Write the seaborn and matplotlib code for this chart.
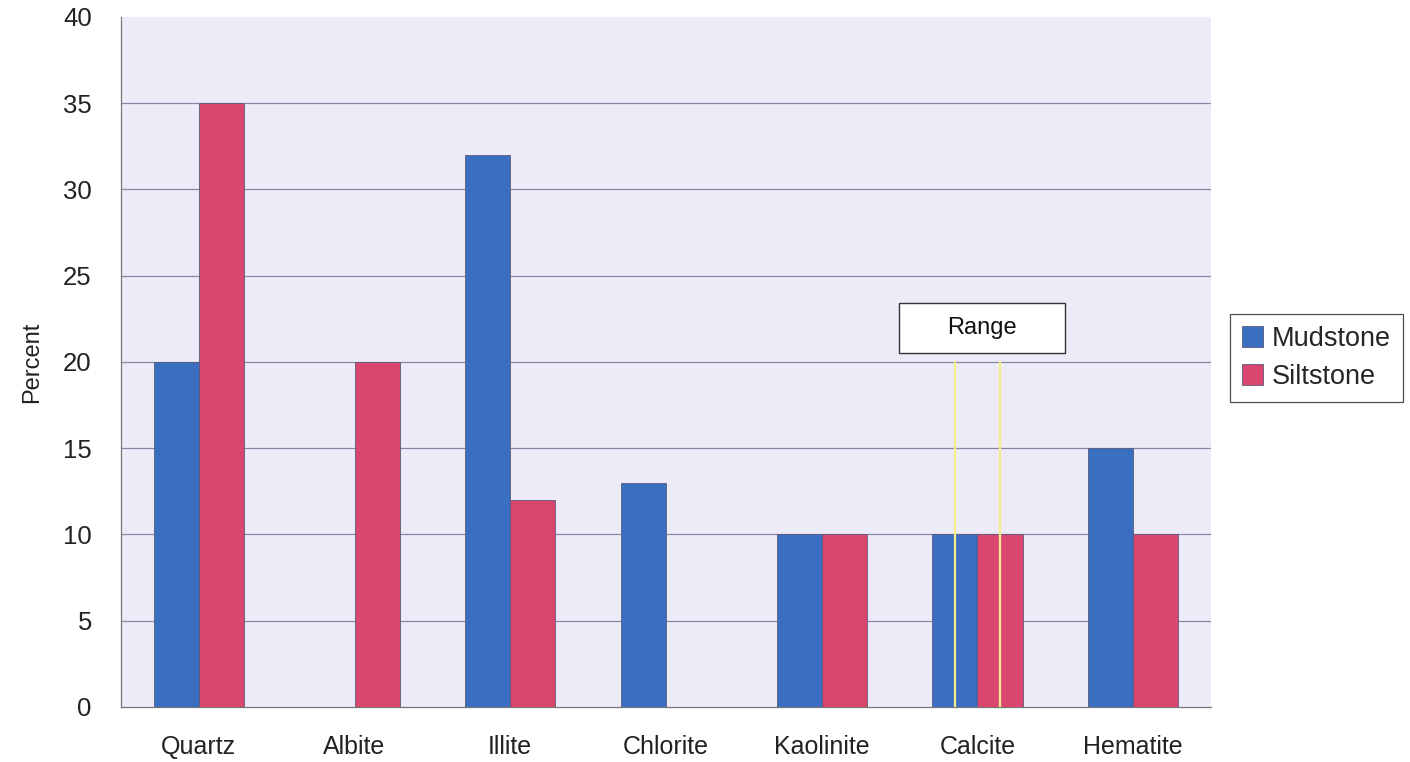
import matplotlib
matplotlib.use("Agg")
import matplotlib.pyplot as plt
from matplotlib.patches import Rectangle
import seaborn as sns
import pandas as pd

# Mineral composition of the two lithologies (percent)
minerals = ["Quartz", "Albite", "Illite", "Chlorite", "Kaolinite", "Calcite", "Hematite"]
mudstone = [20, 0, 32, 13, 10, 10, 15]
siltstone = [35, 20, 12, 0, 10, 10, 10]
series_names = ["Mudstone", "Siltstone"]
y_ticks = [0, 5, 10, 15, 20, 25, 30, 35, 40]

# Calcite varies over a range; the range markers span these values
range_mineral = "Calcite"
range_low, range_high = 0, 20
range_label = "Range"

df = pd.DataFrame({
    "Mineral": minerals * 2,
    "Rock": [series_names[0]] * len(minerals) + [series_names[1]] * len(minerals),
    "Percent": mudstone + siltstone,
})

sns.set_theme(style="white")
plt.rcParams["font.family"] = ["Liberation Sans", "DejaVu Sans"]

fig = plt.figure(figsize=(14.1, 7.62), dpi=100)
ax = fig.add_axes([0.0858, 0.0722, 0.7731, 0.9055])
ax.set_facecolor("#EEEBF8")

palette = {"Mudstone": "#3A6EC1", "Siltstone": "#D9466F"}
sns.barplot(data=df, x="Mineral", y="Percent", hue="Rock", order=minerals,
            hue_order=series_names, palette=palette, width=0.58, gap=0,
            saturation=1, edgecolor="#5a5a7a", linewidth=0.6, ax=ax, zorder=3)

ax.set_ylim(0, 40)
ax.set_xlim(-0.5, len(minerals) - 0.5)
ax.set_yticks(y_ticks)
ax.set_yticklabels([str(t) for t in y_ticks], fontsize=18.5, color="#222222")
ax.set_xlabel("")
ax.set_ylabel("Percent", fontsize=17, color="#222222", labelpad=14)
ax.tick_params(axis="x", which="major", length=0, labelsize=18, pad=20, labelcolor="#222222")
ax.set_xticks([i + 0.5 for i in range(-1, len(minerals))], minor=True)
ax.tick_params(axis="x", which="minor", length=5, width=0.8, color="#555555", direction="out")
ax.tick_params(axis="y", which="major", length=5, width=0.8, color="#555555", direction="out", pad=16)

# horizontal gridlines behind the bars
for t in y_ticks[1:-1]:
    ax.axhline(t, color="#8a86a8", linewidth=0.9, zorder=1)

for side in ["top", "right"]:
    ax.spines[side].set_visible(False)
for side in ["left", "bottom"]:
    ax.spines[side].set_color("#777777")
    ax.spines[side].set_linewidth(0.9)

# range markers through the centre of each calcite bar
idx = minerals.index(range_mineral)
n = len(minerals)
for k in range(len(series_names)):
    patch = ax.patches[k * n + idx]
    xc = patch.get_x() + patch.get_width() / 2
    ax.plot([xc, xc], [range_low, range_high], color="#F2EE8A", linewidth=1.6, zorder=4)

# label box for the range markers
box_w, box_h, box_y0 = 1.07, 2.85, range_high + 0.55
box_x0 = idx - box_w / 2 + 0.03
ax.add_patch(Rectangle((box_x0, box_y0), box_w, box_h, facecolor="white",
                       edgecolor="#333333", linewidth=1.0, zorder=4.5))
ax.text(box_x0 + box_w / 2, box_y0 + box_h / 2, range_label, ha="center", va="center",
        fontsize=17, color="#111111", zorder=5)

handles, labels = ax.get_legend_handles_labels()
ax.legend(handles, labels, loc="center left", bbox_to_anchor=(1.017, 0.506),
          fontsize=19.5, frameon=True, fancybox=False, edgecolor="#222222",
          handlelength=0.8, handleheight=0.8, handletextpad=0.3,
          borderpad=0.45, labelspacing=0.45, borderaxespad=0)
ax.get_legend().get_frame().set_linewidth(0.9)

fig.savefig("out.png", dpi=100, facecolor="white")
